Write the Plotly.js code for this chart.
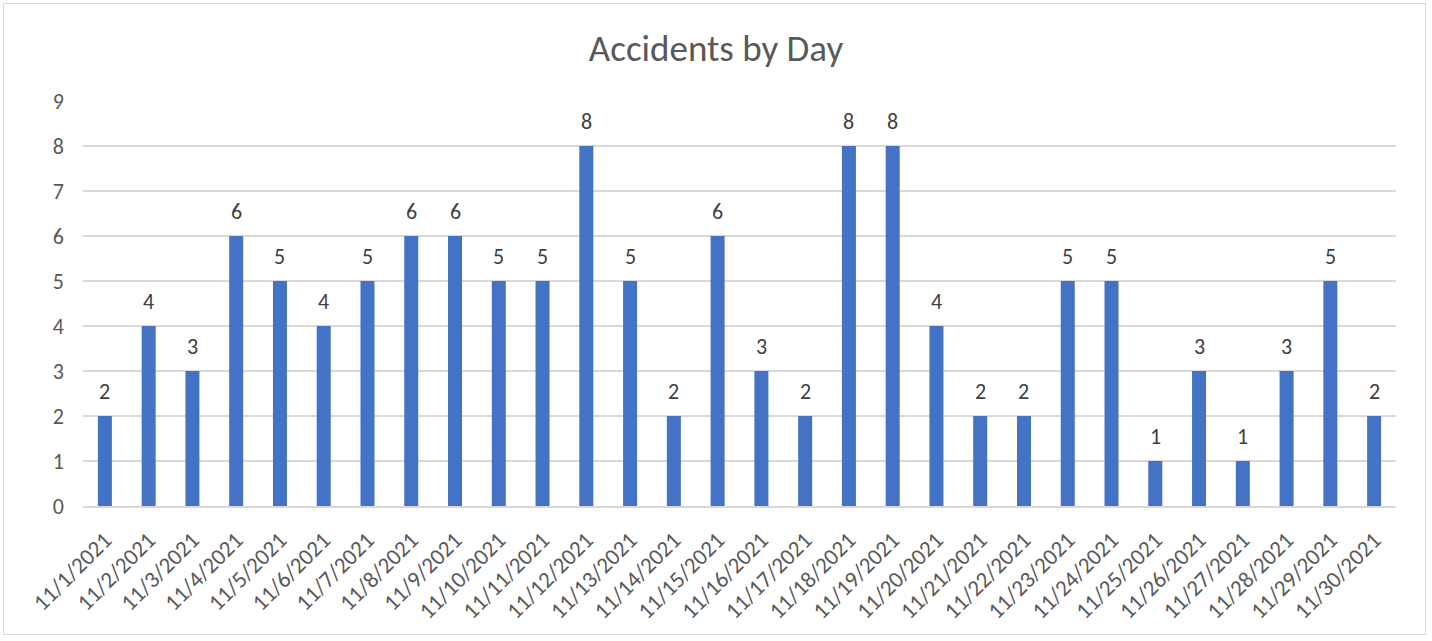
<!DOCTYPE html>
<html><head><meta charset="utf-8">
<script src="https://cdn.plot.ly/plotly-3.0.1.min.js"></script>
<style>
html,body{margin:0;padding:0;background:#fff;}
#wrap{position:relative;width:1432px;height:641px;}
#chart{width:1432px;height:641px;}
#frame{position:absolute;left:3px;top:3px;width:1423px;height:632px;border:1px solid #d9d9d9;box-sizing:border-box;pointer-events:none;}
</style></head>
<body>
<div id="wrap"><div id="chart"></div><div id="frame"></div></div>
<script>
const days = ["11/1/2021","11/2/2021","11/3/2021","11/4/2021","11/5/2021","11/6/2021","11/7/2021","11/8/2021","11/9/2021","11/10/2021",
"11/11/2021","11/12/2021","11/13/2021","11/14/2021","11/15/2021","11/16/2021","11/17/2021","11/18/2021","11/19/2021","11/20/2021",
"11/21/2021","11/22/2021","11/23/2021","11/24/2021","11/25/2021","11/26/2021","11/27/2021","11/28/2021","11/29/2021","11/30/2021"];
const accidents = [2,4,3,6,5,4,5,6,6,5,5,8,5,2,6,3,2,8,8,4,2,2,5,5,1,3,1,3,5,2];
const yTicks = [0,1,2,3,4,5,6,7,8,9];

const font = "Carlito, Calibri, 'Liberation Sans', sans-serif";
const labels = days.map((d, i) => ({
  x: d, y: accidents[i], xref:'x', yref:'y', text: String(accidents[i]),
  showarrow:false, yanchor:'middle', yshift:25,
  font:{family:font, size:22, color:'#404040'}
}));
Plotly.newPlot('chart', [{
  type:'bar', x: days, y: accidents,
  marker:{color:'#4472c4'},
  hoverinfo:'none'
}], {
  width:1432, height:641,
  margin:{l:83,r:36,t:101,b:135},
  paper_bgcolor:'#fff', plot_bgcolor:'#fff',
  title:{text:'Accidents by Day', font:{family:font,size:37,color:'#595959'}, x:0.5, xanchor:'center', y:0.925, yanchor:'middle'},
  bargap:0.68,
  annotations: labels,
  xaxis:{type:'category', tickangle:-45, tickfont:{family:font,size:23,color:'#595959'},
    showgrid:false, showline:true, linecolor:'#d9d9d9', linewidth:1.5, ticks:'', ticklabelstandoff:10},
  yaxis:{range:[0,9], tickvals:yTicks, tickfont:{family:font,size:22,color:'#595959'},
    showgrid:true, gridcolor:'#d9d9d9', gridwidth:1.3, zeroline:false, ticks:'', ticklabelstandoff:18, showline:false},
  showlegend:false
}, {displayModeBar:false, staticPlot:true});
</script>
</body></html>
